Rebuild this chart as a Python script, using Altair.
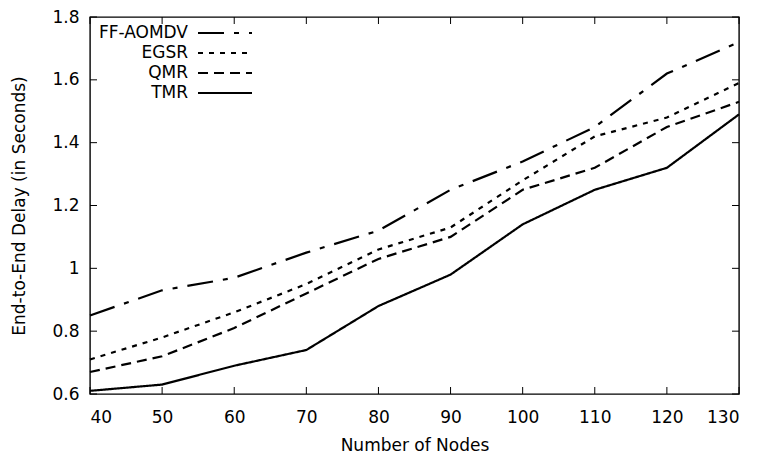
import altair as alt
import pandas as pd

nodes = [40, 50, 60, 70, 80, 90, 100, 110, 120, 130]
series_names = ["FF-AOMDV", "EGSR", "QMR", "TMR"]
ff_aomdv = [0.85, 0.93, 0.97, 1.05, 1.12, 1.25, 1.34, 1.45, 1.62, 1.72]
egsr = [0.71, 0.78, 0.86, 0.95, 1.06, 1.13, 1.28, 1.42, 1.48, 1.59]
qmr = [0.67, 0.72, 0.81, 0.92, 1.03, 1.10, 1.25, 1.32, 1.45, 1.53]
tmr = [0.61, 0.63, 0.69, 0.74, 0.88, 0.98, 1.14, 1.25, 1.32, 1.49]
y_ticks = [0.6, 0.8, 1.0, 1.2, 1.4, 1.6, 1.8]

dash_styles = [[26, 10, 5, 10], [5, 6], [10, 6], [1, 0]]

W, H = 649, 377
FONT = "DejaVu Sans"
FS = 17

rows = []
for name, vals in zip(series_names, [ff_aomdv, egsr, qmr, tmr]):
    for n, v in zip(nodes, vals):
        rows.append({"nodes": n, "delay": v, "series": name})
df = pd.DataFrame(rows)

xscale = alt.Scale(domain=[40, 130], nice=False, zero=False)
yscale = alt.Scale(domain=[0.6, 1.8], nice=False, zero=False)

lines = alt.Chart(df).mark_line(color="black", strokeWidth=2.2).encode(
    x=alt.X("nodes:Q", scale=xscale,
            axis=alt.Axis(title="Number of Nodes", values=nodes, grid=False,
                          ticks=False, domain=False, labelPadding=15,
                          titlePadding=12)),
    y=alt.Y("delay:Q", scale=yscale,
            axis=alt.Axis(title="End-to-End Delay (in Seconds)", values=y_ticks,
                          format=".1~f", grid=False, ticks=False, domain=False,
                          labelPadding=11, titlePadding=23)),
    strokeDash=alt.StrokeDash("series:N",
                              scale=alt.Scale(domain=series_names, range=dash_styles),
                              legend=None),
    detail="series:N",
)

xt = pd.DataFrame({"t": nodes})
yt = pd.DataFrame({"t": y_ticks})
TL = 7
tick_layers = [
    alt.Chart(xt).mark_rule(color="black", strokeWidth=1).encode(
        x=alt.X("t:Q", scale=xscale), y=alt.value(H), y2=alt.value(H - TL)),
    alt.Chart(xt).mark_rule(color="black", strokeWidth=1).encode(
        x=alt.X("t:Q", scale=xscale), y=alt.value(0), y2=alt.value(TL)),
    alt.Chart(yt).mark_rule(color="black", strokeWidth=1).encode(
        y=alt.Y("t:Q", scale=yscale), x=alt.value(0), x2=alt.value(TL)),
    alt.Chart(yt).mark_rule(color="black", strokeWidth=1).encode(
        y=alt.Y("t:Q", scale=yscale), x=alt.value(W), x2=alt.value(W - TL)),
]

legend_layers = []
for i, (name, dash) in enumerate(zip(series_names, dash_styles)):
    ld = pd.DataFrame({"s": [name]})
    ypos = 16 + 20 * i
    legend_layers.append(
        alt.Chart(ld).mark_text(align="right", baseline="middle", font=FONT,
                                fontSize=FS, color="black").encode(
            text="s:N", x=alt.value(98), y=alt.value(ypos)))
    legend_layers.append(
        alt.Chart(ld).mark_rule(color="black", strokeWidth=2.2, strokeDash=dash).encode(
            x=alt.value(108), x2=alt.value(162), y=alt.value(ypos)))

chart = alt.layer(lines, *tick_layers, *legend_layers).properties(
    width=W, height=H,
    autosize=alt.AutoSizeParams(type="none"),
    padding={"left": 82, "top": 9, "right": 15, "bottom": 66},
).configure_view(
    stroke="black", strokeWidth=1.4
).configure_axis(
    labelFont=FONT, titleFont=FONT, labelFontSize=FS, titleFontSize=FS,
    labelColor="black", titleColor="black", titleFontWeight="normal",
)

chart.save("out.html", embed_options={"renderer": "svg", "actions": False})
